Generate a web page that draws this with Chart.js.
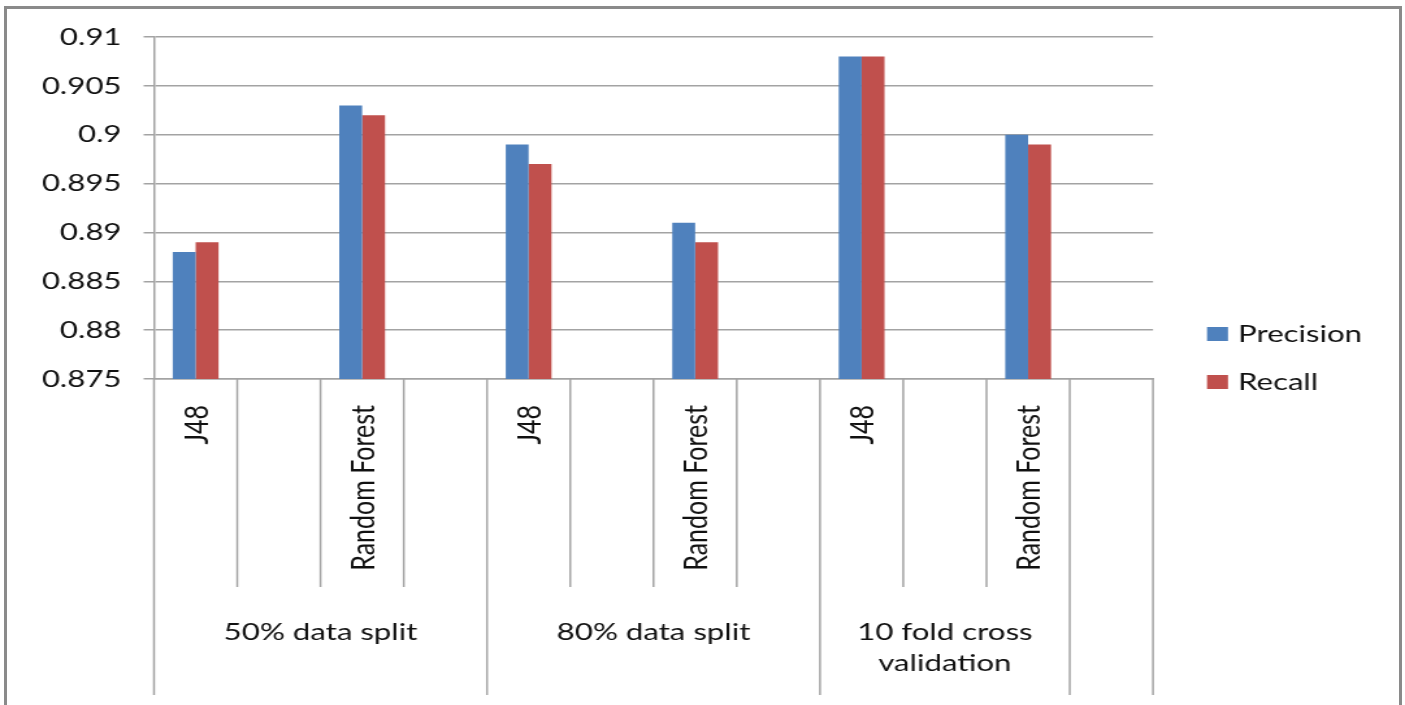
<!DOCTYPE html>
<html>
<head>
<meta charset="utf-8">
<script src="https://cdn.jsdelivr.net/npm/chart.js@4/dist/chart.umd.min.js"></script>
<style>
  html, body { margin: 0; padding: 0; background: #fff; overflow: hidden; }
  #frame {
    position: absolute; left: 4px; top: 6px; width: 1392px; height: 720px;
    border: 3px solid #8a8a8a; border-bottom: none;
  }
  #wrap {
    position: absolute; left: 0; top: 0; width: 1081px; height: 705px;
    transform-origin: 0 0;
  }
</style>
</head>
<body>
<div id="frame"></div>
<div id="wrap"><canvas id="chart" width="1081" height="705"></canvas></div>
<script>
// category slots along the x axis, grouped by evaluation setup
const slotLabels = ["J48", "", "Random Forest", "", "J48", "", "Random Forest", "", "J48", "", "Random Forest", ""];
const groupLabels = [["50% data split"], ["80% data split"], ["10 fold cross", "validation"], [""]];
const groupEdges = [0, 4, 8, 11, 12];

const precision = [0.888, null, 0.903, null, 0.899, null, 0.891, null, 0.908, null, 0.900, null];
const recall = [0.889, null, 0.902, null, 0.897, null, 0.889, null, 0.908, null, 0.899, null];

const yMin = 0.875;
const yMax = 0.91;
const yStep = 0.005;

// the drawing is stretched sideways like the exported sheet chart
const CW = 1081;
const SX = 1405 / CW;
document.getElementById("wrap").style.transform = `scaleX(${SX})`;

const FONT = "Lato, 'DejaVu Sans', sans-serif";
const TEXT = "#111";
const LINE = "#a3a3a3";

// x axis: rotated slot names, divider lines and group names
const axisLabels = {
  id: "axisLabels",
  afterDraw(chart) {
    const { ctx, scales: { x } } = chart;
    const top = x.top;
    const edge = b => x.getPixelForValue(b - 0.5);

    ctx.save();
    ctx.strokeStyle = LINE;
    ctx.lineWidth = 1.5;
    for (let b = 0; b <= slotLabels.length; b++) {
      const long = groupEdges.includes(b);
      const px = edge(b);
      ctx.beginPath();
      ctx.moveTo(px, top);
      ctx.lineTo(px, long ? 695 : 587);
      ctx.stroke();
    }

    ctx.fillStyle = TEXT;
    ctx.font = `25px ${FONT}`;
    slotLabels.forEach((label, i) => {
      if (!label) return;
      const cx = x.getPixelForValue(i);
      ctx.save();
      ctx.translate(cx, 405);
      ctx.rotate(-Math.PI / 2);
      ctx.textAlign = "right";
      ctx.textBaseline = "alphabetic";
      ctx.fillText(label, 0, 9);
      ctx.restore();
    });

    ctx.font = `24px ${FONT}`;
    ctx.textAlign = "center";
    ctx.textBaseline = "alphabetic";
    groupLabels.forEach((lines, g) => {
      const cx = (edge(groupEdges[g]) + edge(groupEdges[g + 1])) / 2;
      lines.forEach((t, k) => ctx.fillText(t, cx, 640 + k * 31));
    });
    ctx.restore();
  }
};

// legend on the right side
const sideLegend = {
  id: "sideLegend",
  afterDraw(chart) {
    const { ctx } = chart;
    ctx.save();
    ctx.font = `24px ${FONT}`;
    ctx.textBaseline = "alphabetic";
    ctx.textAlign = "left";
    chart.data.datasets.forEach((ds, i) => {
      const base = 342 + i * 48;
      ctx.fillStyle = ds.backgroundColor;
      ctx.fillRect(1207 / SX, base - 15, 21 / SX, 14);
      ctx.fillStyle = TEXT;
      ctx.fillText(ds.label, 1238 / SX, base);
    });
    ctx.restore();
  }
};

new Chart(document.getElementById("chart"), {
  type: "bar",
  data: {
    labels: slotLabels,
    datasets: [
      { label: "Precision", data: precision, backgroundColor: "#4F81BD" },
      { label: "Recall", data: recall, backgroundColor: "#C0504D" }
    ]
  },
  options: {
    responsive: false,
    animation: false,
    devicePixelRatio: 1,
    categoryPercentage: 0.55,
    barPercentage: 1.0,
    layout: {
      padding: { left: 0, right: CW - 1153 / SX, top: 37, bottom: 0 }
    },
    plugins: {
      legend: { display: false },
      tooltip: { enabled: false }
    },
    scales: {
      x: {
        offset: true,
        grid: { display: false },
        border: { display: true, color: LINE, width: 1.5 },
        ticks: { display: false },
        afterFit: scale => { scale.height = 705 - 379; }
      },
      y: {
        min: yMin,
        max: yMax,
        grid: { color: LINE, lineWidth: 1.5, tickLength: 8, tickColor: LINE },
        border: { display: true, color: LINE, width: 1.5 },
        ticks: {
          stepSize: yStep,
          padding: 17,
          color: TEXT,
          font: { family: FONT, size: 24 },
          callback: v => String(Number(v.toFixed(3)))
        },
        afterFit: scale => { scale.width = 154 / SX; }
      }
    }
  },
  plugins: [axisLabels, sideLegend]
});
</script>
</body>
</html>
